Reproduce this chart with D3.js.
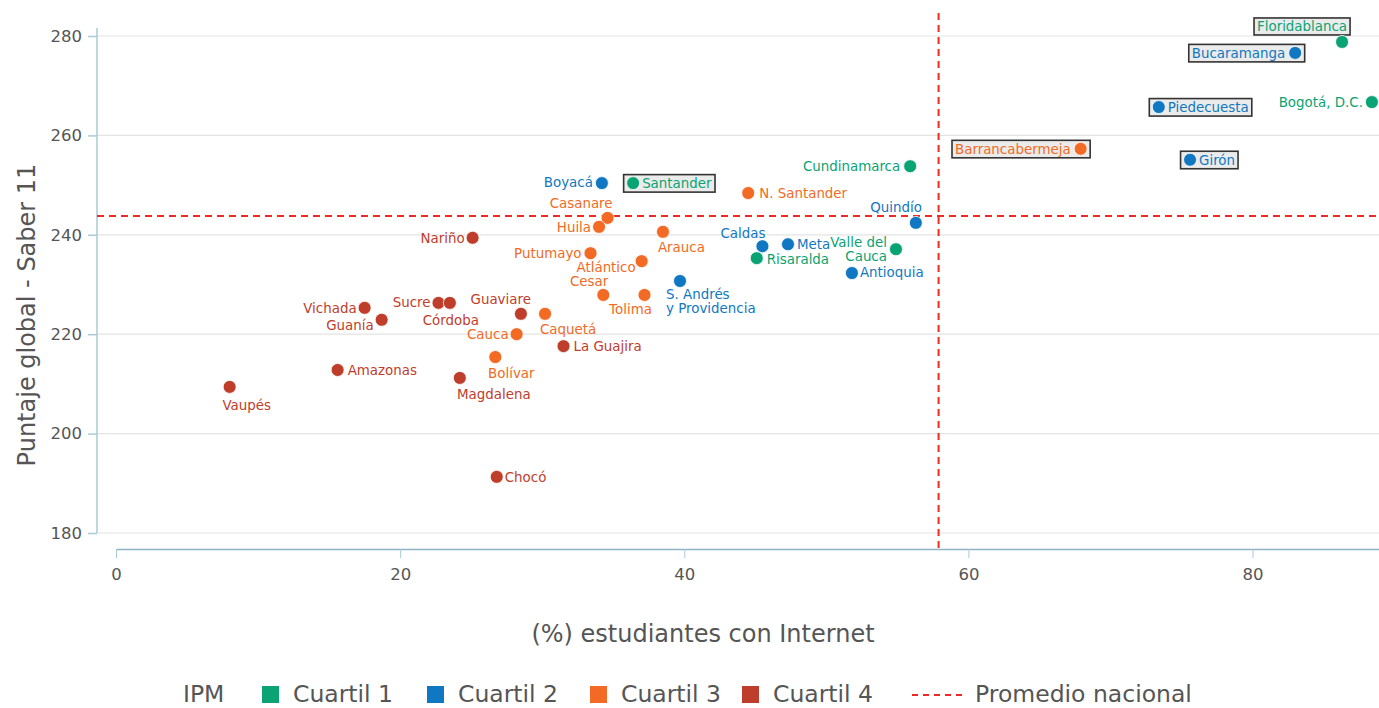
<!DOCTYPE html>
<html><head><meta charset="utf-8">
<script src="https://cdn.jsdelivr.net/npm/d3@7"></script>
<style>
body{margin:0;background:#fff;}
svg{display:block;font-family:"DejaVu Sans",sans-serif;}
</style></head>
<body><svg id="c" width="1379" height="708"></svg>
<script>
const names = ["Floridablanca","Bucaramanga","Bogotá, D.C.","Piedecuesta","Barrancabermeja","Girón","Cundinamarca","Santander","Boyacá","N. Santander","Quindío","Casanare","Huila","Nariño","Arauca","Caldas","Meta","Valle del|Cauca","Risaralda","Antioquia","Putumayo","Atlántico","S. Andrés|y Providencia","Cesar","Tolima","Guaviare","Caquetá","Cauca","La Guajira","Sucre","Córdoba","Vichada","Guanía","Amazonas","Magdalena","Bolívar","Vaupés","Chocó"];
const internet = [86.3,83.0,88.4,73.4,67.9,75.6,55.9,36.4,34.2,44.5,56.3,34.6,34.0,25.1,38.5,45.5,47.3,54.9,45.1,51.8,33.4,37.0,39.7,34.3,37.2,28.5,30.2,28.2,31.5,22.7,23.5,17.5,18.7,15.6,24.2,26.7,8.0,26.8];
const puntaje = [278.8,276.6,266.7,265.7,257.3,255.1,253.8,250.4,250.4,248.4,242.4,243.4,241.6,239.4,240.6,237.7,238.1,237.1,235.3,232.3,236.3,234.7,230.7,227.9,227.9,224.1,224.1,220.0,217.6,226.3,226.3,225.3,222.9,212.8,211.2,215.4,209.4,191.3];
const cuartil = [1,2,1,2,3,2,1,1,2,3,2,3,3,4,3,2,2,1,1,2,3,3,2,3,3,4,3,3,4,4,4,4,4,4,4,3,4,4];
const boxed = ["Floridablanca","Bucaramanga","Piedecuesta","Barrancabermeja","Girón","Santander"];
const xTicks = [0,20,40,60,80];
const yTicks = [180,200,220,240,260,280];
const promedioX = 57.9, promedioY = 243.8;
const legendLabels = ["Cuartil 1","Cuartil 2","Cuartil 3","Cuartil 4"];

// label placement: [anchor, dx, dy]
const labelPos = {
 "Floridablanca":["end",5,-11],"Bucaramanga":["end",-10,5],"Bogotá, D.C.":["end",-9,5],
 "Piedecuesta":["start",9,5],"Barrancabermeja":["end",-10,5],"Girón":["start",9,5],
 "Cundinamarca":["end",-10,5],"Santander":["start",9,5],"Boyacá":["end",-9,4],
 "N. Santander":["start",11,5],"Quindío":["end",6,-11],"Casanare":["end",5,-10],
 "Huila":["end",-8,5],"Nariño":["end",-8,5],"Arauca":["start",-5,20],"Caldas":["end",3,-8],
 "Meta":["start",9,5],"Valle del|Cauca":["end",-9,-2],"Risaralda":["start",10,6],
 "Antioquia":["start",8,4],"Putumayo":["end",-9,5],"Atlántico":["end",-6,11],
 "S. Andrés|y Providencia":["start",-14,18],"Cesar":["end",5,-9],"Tolima":["middle",-14,19],
 "Guaviare":["end",10,-10],"Caquetá":["middle",23,20],"Cauca":["end",-8,5],
 "La Guajira":["start",10,5],"Sucre":["end",-8,4],"Córdoba":["middle",1,22],
 "Vichada":["end",-8,5],"Guanía":["end",-8,10],"Amazonas":["start",10,5],
 "Magdalena":["middle",34,21],"Bolívar":["middle",16,21],"Vaupés":["middle",17,23],"Chocó":["start",8,5]
};

const colors = {1:"#0aa373",2:"#1078c2",3:"#f26a24",4:"#bf3d2b"};
const svg = d3.select("#c");
const x = d3.scaleLinear().domain([0,88.9]).range([116,1379]);
const y = d3.scaleLinear().domain([180,280]).range([533,36]);

// gridlines
svg.append("g").selectAll("line").data(yTicks).join("line")
 .attr("x1",97).attr("x2",1379).attr("y1",d=>y(d)).attr("y2",d=>y(d))
 .attr("stroke","#e3e3e3").attr("stroke-width",1.2);

// y axis
const yAxis = svg.append("g").attr("transform","translate(97,0)")
 .call(d3.axisLeft(y).tickValues(yTicks).tickSize(9).tickPadding(6).tickSizeOuter(0));
yAxis.select(".domain").attr("d",`M0,${y(281.6)}V${y(180)}`).attr("stroke","#a9cbd8").attr("stroke-width",1.5);
yAxis.selectAll(".tick line").attr("stroke","#a9cbd8").attr("stroke-width",1.5);
yAxis.selectAll(".tick text").attr("font-size",16.5).attr("fill","#555").attr("font-family","DejaVu Sans,sans-serif");

// x axis
const xAxis = svg.append("g").attr("transform","translate(0,549)")
 .call(d3.axisBottom(x).tickValues(xTicks).tickSize(9).tickPadding(10).tickSizeOuter(0));
xAxis.select(".domain").attr("stroke","#8fb3c1").attr("stroke-width",1.5);
xAxis.selectAll(".tick line").attr("stroke","#a9cbd8").attr("stroke-width",1);
xAxis.selectAll(".tick text").attr("font-size",16.5).attr("fill","#555").attr("font-family","DejaVu Sans,sans-serif");

// axis titles
svg.append("text").attr("x",703).attr("y",642).attr("text-anchor","middle")
 .attr("font-size",24).attr("fill","#555").text("(%) estudiantes con Internet");
svg.append("text").attr("transform","translate(35,315) rotate(-90)").attr("text-anchor","middle")
 .attr("font-size",24).attr("fill","#555").text("Puntaje global - Saber 11");

// reference lines
svg.append("line").attr("x1",97).attr("x2",1379).attr("y1",y(promedioY)).attr("y2",y(promedioY))
 .attr("stroke","#ee2a24").attr("stroke-width",2).attr("stroke-dasharray","7,5");
svg.append("line").attr("x1",x(promedioX)).attr("x2",x(promedioX)).attr("y1",13).attr("y2",549)
 .attr("stroke","#ee2a24").attr("stroke-width",2).attr("stroke-dasharray","7,5");

const data = names.map((n,i)=>({n,x:internet[i],y:puntaje[i],q:cuartil[i]}));
const R = 6.5;
const gBox = svg.append("g"), gPts = svg.append("g"), gLab = svg.append("g");

gPts.selectAll("circle").data(data).join("circle")
 .attr("cx",d=>x(d.x)).attr("cy",d=>y(d.y)).attr("r",R)
 .attr("fill",d=>colors[d.q]).attr("stroke","#fff").attr("stroke-width",0.8);

data.forEach(d=>{
 const p = labelPos[d.n]; const cx=x(d.x), cy=y(d.y);
 const lines = d.n.split("|");
 const t = gLab.append("text").attr("text-anchor",p[0]).attr("font-size",13.4)
   .attr("fill",colors[d.q]);
 lines.forEach((l,k)=>t.append("tspan").attr("x",cx+p[1]).attr("y",cy+p[2]+k*14).text(l));
 if(boxed.includes(d.n)){
   const bb = t.node().getBBox();
   let x0=bb.x-3, x1=bb.x+bb.width+3, y0=bb.y-1, y1=bb.y+bb.height+1;
   if(d.n!=="Floridablanca"){
     x0=Math.min(x0,cx-R-3); x1=Math.max(x1,cx+R+3);
     y0=Math.min(y0,cy-R-2); y1=Math.max(y1,cy+R+2);
   }
   gBox.append("rect").attr("x",x0).attr("y",y0).attr("width",x1-x0).attr("height",y1-y0)
    .attr("fill","#ebebeb").attr("stroke","#333").attr("stroke-width",1.6);
 }
});

// legend
const lg = svg.append("g").attr("font-size",23.5).attr("fill","#555");
lg.append("text").attr("x",183).attr("y",702).text("IPM");
const lx = [262,427,590,742];
legendLabels.forEach((l,i)=>{
 lg.append("rect").attr("x",lx[i]).attr("y",686).attr("width",17).attr("height",17).attr("fill",colors[i+1]);
 lg.append("text").attr("x",lx[i]+31).attr("y",702).text(l);
});
lg.append("line").attr("x1",912).attr("x2",962).attr("y1",695).attr("y2",695)
 .attr("stroke","#ee2a24").attr("stroke-width",2).attr("stroke-dasharray","6,5");
lg.append("text").attr("x",975).attr("y",702).text("Promedio nacional");
</script></body></html>
